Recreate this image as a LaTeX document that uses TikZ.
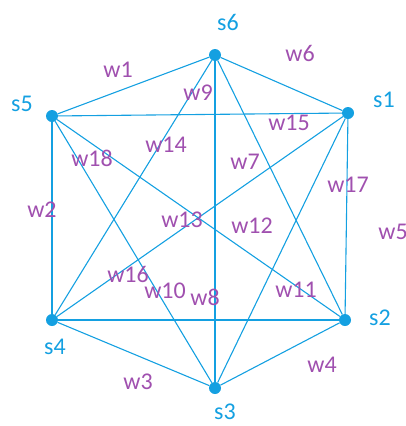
\documentclass[tikz,border=0pt]{standalone}
\usepackage{fontspec}
\setmainfont{Carlito}
\definecolor{dinhxanh}{RGB}{20,160,225}
\definecolor{tsim}{RGB}{160,80,175}
\begin{document}
\begin{tikzpicture}[x = 1pt, y = -1pt,
	dinh/.style = {circle, fill = dinhxanh, inner sep = 0pt, minimum size = 12pt},
	canh/.style = {draw = dinhxanh, line width = 1.1pt},
	tendinh/.style = {text = dinhxanh, font = \fontsize{24}{26}\selectfont},
	trongso/.style = {text = tsim, font = \fontsize{24}{26}\selectfont}]
	\useasboundingbox (0,0) rectangle (406,426);
	%Vẽ các đỉnh
	\foreach \n/\x/\y in {s1/348/113,s2/345/320,s3/215/388,s4/52/320,s5/52/116,s6/215/55}
	\node[dinh] (\n) at (\x,\y) {};
	\foreach \n/\x/\y in {s1/384/100,s2/380/318,s3/225/412,s4/55/347,s5/22/104,s6/228/22}
	\node[tendinh] (t\n) at (\x,\y) {\n};
	% Vẽ các cạnh
	\foreach \a/\b in {s5/s6,s6/s1,s5/s1,s5/s4,s1/s2,s4/s2,s4/s3,s3/s2,s6/s3,s6/s4,s6/s2,s5/s3,s5/s2,s1/s4,s1/s3}
	\draw[canh] (\a) -- (\b);
	% Trọng số
	\foreach \w/\x/\y in {w1/118/70,w6/300/53,w9/198/93,w15/289/123,w14/166/145,w18/92/158,w7/245/162,w17/348/185,w2/42/210,w13/182/220,w12/252/226,w5/393/232,w16/128/274,w10/165/291,w8/205/297,w11/296/290,w4/322/365,w3/138/382}
	\node[trongso] (\w) at (\x,\y) {\w};
\end{tikzpicture}
\end{document}
